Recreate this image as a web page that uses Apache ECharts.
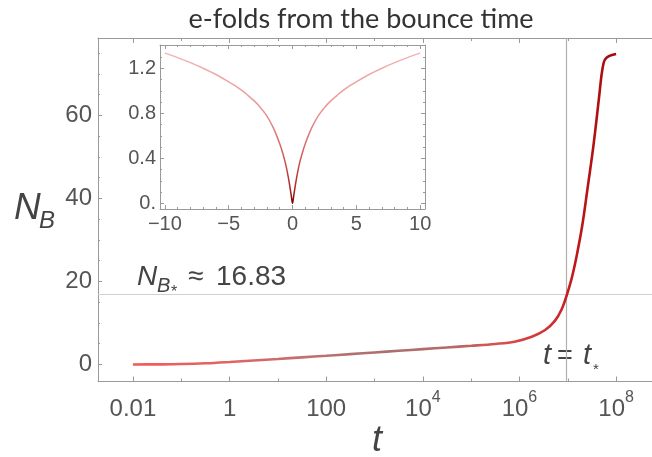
<!DOCTYPE html>
<html><head><meta charset="utf-8">
<script src="https://cdn.jsdelivr.net/npm/echarts@6/dist/echarts.min.js"></script>
<style>html,body{margin:0;padding:0;background:#fff}#c{width:652px;height:457px}</style>
</head><body><div id="c"></div>
<script>
// ---- main curve: t (time) and N_B (e-folds) ----
const tValues = [0.01, 0.0316, 0.1, 0.316, 1, 3.16, 10, 31.6, 100, 316, 1000, 3160, 1e4, 3.16e4, 1e5, 3.16e5,
  7.9e5, 1.8e6, 3.4e6, 5.4e6, 7.4e6, 9.4e6, 1.2e7, 1.41e7, 1.62e7, 2.0e7, 2.5e7, 3.4e7, 4.4e7, 5.0e7, 5.5e7,
  6.0e7, 7.1e7, 8.3e7, 1e8];
const nValues = [0.0, 0.03, 0.1, 0.28, 0.6, 0.97, 1.33, 1.72, 2.1, 2.5, 2.9, 3.3, 3.7, 4.1, 4.5, 4.95,
  5.5, 6.7, 8.3, 10.5, 13.2, 16.5, 20.7, 24.2, 27.7, 33.6, 41.5, 52.8, 64.0, 69.8, 72.6,
  73.6, 74.3, 74.6, 74.8];
// ---- inset curve ----
const insetT = [-10, -9, -8, -7, -6, -5, -4.5, -4, -3.5, -3, -2.5, -2, -1.5, -1, -0.75, -0.5, -0.25, -0.1, 0,
  0.1, 0.25, 0.5, 0.75, 1, 1.5, 2, 2.5, 3, 3.5, 4, 4.5, 5, 6, 7, 8, 9, 10];
const insetN = [1.335, 1.295, 1.25, 1.20, 1.145, 1.08, 1.045, 1.005, 0.96, 0.91, 0.85, 0.775, 0.67, 0.53, 0.44, 0.33, 0.18, 0.07, 0.0,
  0.07, 0.18, 0.33, 0.44, 0.53, 0.67, 0.775, 0.85, 0.91, 0.96, 1.005, 1.045, 1.08, 1.145, 1.20, 1.25, 1.295, 1.335];
// ---- ticks ----
const xMajorTicks = [0.01, 1, 100, 1e4, 1e6, 1e8];
const xMinorTicks = [0.1, 10, 1000, 1e5, 1e7];
const yMajorTicks = [0, 20, 40, 60];
const yMinorTicks = [5, 10, 15, 25, 30, 35, 45, 50, 55, 65, 70, 75];
const insetXMajor = [-10, -5, 0, 5, 10];
const insetXMinor = [-9, -8, -7, -6, -4, -3, -2, -1, 1, 2, 3, 4, 6, 7, 8, 9];
const insetYMajor = [0, 0.4, 0.8, 1.2];
const insetYMinor = [0.1, 0.2, 0.3, 0.5, 0.6, 0.7, 0.9, 1.0, 1.1, 1.3];
// reference lines
const tStar = 9.4e6;
const nStar = 16.83;

const lg = Math.log10;
const X_MIN = -2.723, X_MAX = 8.743, Y_MIN = -4.1, Y_MAX = 78.67;
const IX = 10.38, IY_MIN = -0.051, IY_MAX = 1.407;
const AX = '#9a9a9a', LBL = '#555';
const NUMFONT = 'Liberation Sans, Arial, sans-serif';

const mainData = tValues.map((t, i) => [lg(t), nValues[i]]);
const insetData = insetT.map((t, i) => [t, insetN[i]]);

function xFmt(v) {
  const e = Math.round(v);
  if (e < 4) return '{b|' + (e < 0 ? Math.pow(10, e).toFixed(-e) : String(Math.pow(10, e))) + '}';
  return '{b|10}{e|' + e + '}';
}
function tickAxis(grid, pos, vals, len, extra) {
  return Object.assign({
    gridIndex: grid, type: 'value', position: pos,
    axisLine: { show: false, onZero: false }, splitLine: { show: false },
    axisTick: { show: true, inside: true, length: len, customValues: vals, lineStyle: { color: AX, width: 1 } },
    axisLabel: { show: false }
  }, extra || {});
}
const mainX = { min: X_MIN, max: X_MAX };
const mainY = { min: Y_MIN, max: Y_MAX };
const insX = { min: -IX, max: IX };
const insY = { min: IY_MIN, max: IY_MAX };
const lineOn = { axisLine: { show: true, onZero: false, lineStyle: { color: AX, width: 1 } } };

const option = {
  animation: false,
  backgroundColor: '#fff',
  grid: [
    { left: 98, top: 38, width: 560, height: 343.5 },
    { left: 98, top: 38, width: 560, height: 343.5 },
    { left: 160, top: 45, width: 265, height: 164, show: true, backgroundColor: '#fff', borderWidth: 0 },
    { left: 160, top: 45, width: 265, height: 164 }
  ],
  xAxis: [
    tickAxis(0, 'bottom', xMajorTicks.map(lg), 5, Object.assign({}, mainX, lineOn, {
      axisLabel: {
        show: true, customValues: xMajorTicks.map(lg), formatter: xFmt, margin: 8, color: LBL,
        rich: {
          b: { fontSize: 24, fontFamily: NUMFONT, color: LBL, lineHeight: 32, verticalAlign: 'bottom' },
          e: { fontSize: 16, fontFamily: NUMFONT, color: LBL, lineHeight: 18, verticalAlign: 'top' }
        }
      }
    })),
    tickAxis(0, 'top', xMajorTicks.map(lg), 5, Object.assign({}, mainX, lineOn)),
    tickAxis(1, 'bottom', xMinorTicks.map(lg), 3, mainX),
    tickAxis(1, 'top', xMinorTicks.map(lg), 3, mainX),
    tickAxis(2, 'bottom', insetXMajor, 4, Object.assign({}, insX, lineOn, {
      axisLabel: { show: true, customValues: insetXMajor, margin: 5, color: LBL, fontSize: 20, fontFamily: NUMFONT,
        formatter: v => String(v).replace('-', '\u2212') }
    })),
    tickAxis(2, 'top', insetXMajor, 4, Object.assign({}, insX, lineOn)),
    tickAxis(3, 'bottom', insetXMinor, 2, insX),
    tickAxis(3, 'top', insetXMinor, 2, insX)
  ],
  yAxis: [
    tickAxis(0, 'left', yMajorTicks, 4, Object.assign({}, mainY, lineOn, {
      axisLabel: { show: true, customValues: yMajorTicks, margin: 6, color: LBL, fontSize: 24, fontFamily: NUMFONT }
    })),
    tickAxis(1, 'left', yMinorTicks, 2, mainY),
    tickAxis(2, 'left', insetYMajor, 4, Object.assign({}, insY, lineOn, {
      axisLabel: { show: true, customValues: insetYMajor, margin: 4, color: LBL, fontSize: 20, fontFamily: NUMFONT,
        formatter: v => (v === 0 ? '0.' : v.toFixed(1)) }
    })),
    tickAxis(2, 'right', insetYMajor, 4, Object.assign({}, insY, lineOn)),
    tickAxis(3, 'left', insetYMinor, 2, insY),
    tickAxis(3, 'right', insetYMinor, 2, insY)
  ],
  series: [
    {
      type: 'line', xAxisIndex: 0, yAxisIndex: 0, data: mainData,
      showSymbol: false, smooth: 0.35, z: 5,
      lineStyle: {
        width: 2.6,
        color: new echarts.graphic.LinearGradient(0, 0, 1, 0, [
          { offset: 0.0, color: '#f25a5a' },
          { offset: 0.2, color: '#e26262' },
          { offset: 0.35, color: '#c47070' },
          { offset: 0.5, color: '#aa7070' },
          { offset: 0.65, color: '#b46a6a' },
          { offset: 0.76, color: '#d65050' },
          { offset: 0.86, color: '#d03030' },
          { offset: 0.91, color: '#c01818' },
          { offset: 1.0, color: '#a00808' }
        ])
      },
      markLine: {
        silent: true, symbol: 'none', label: { show: false }, animation: false, z: 1,
        data: [
          { yAxis: nStar, lineStyle: { color: '#d0d0d0', width: 1.2, type: 'solid' } },
          { xAxis: lg(tStar), lineStyle: { color: '#b0b0b0', width: 1.2, type: 'solid' } }
        ]
      }
    },
    {
      type: 'line', xAxisIndex: 4, yAxisIndex: 2, data: insetData,
      showSymbol: false, smooth: 0.35, z: 5,
      lineStyle: {
        width: 1.5,
        color: new echarts.graphic.LinearGradient(0, 0, 0, 1, [
          { offset: 0.0, color: '#f4b4b4' },
          { offset: 0.4, color: '#ea9494' },
          { offset: 0.7, color: '#d05858' },
          { offset: 0.9, color: '#a82020' },
          { offset: 1.0, color: '#700000' }
        ])
      }
    }
  ],
  graphic: [
    { type: 'text', x: 361, y: 19, style: { text: 'e-folds from the bounce time', font: '27px Lato, sans-serif', fill: '#333', align: 'center', verticalAlign: 'middle' }, z: 10 },
    // y-axis name N_B
    { type: 'text', x: 14, y: 209, style: { text: 'N', font: 'italic 37px ' + NUMFONT, fill: '#444', verticalAlign: 'middle' } },
    { type: 'text', x: 39, y: 221, style: { text: 'B', font: 'italic 24px ' + NUMFONT, fill: '#444', verticalAlign: 'middle' } },
    // x-axis name t
    { type: 'text', x: 377, y: 441, style: { text: 't', font: 'italic 36px ' + NUMFONT, fill: '#444', align: 'center', verticalAlign: 'middle' } },
    // N_B* ≈ 16.83
    { type: 'text', x: 137, y: 277, style: { text: 'N', font: 'italic 28px ' + NUMFONT, fill: '#444', verticalAlign: 'middle' } },
    { type: 'text', x: 157, y: 286, style: { text: 'B', font: 'italic 20px ' + NUMFONT, fill: '#444', verticalAlign: 'middle' } },
    { type: 'text', x: 171, y: 293, style: { text: '*', font: '16px ' + NUMFONT, fill: '#444', verticalAlign: 'middle' } },
    { type: 'text', x: 188, y: 277, style: { text: '\u2248', font: '28px ' + NUMFONT, fill: '#444', verticalAlign: 'middle' } },
    { type: 'text', x: 216, y: 277, style: { text: '16.83', font: '28px ' + NUMFONT, fill: '#444', verticalAlign: 'middle' } },
    // t = t*
    { type: 'text', x: 543, y: 356, style: { text: 't', font: 'italic 29px ' + NUMFONT, fill: '#444', verticalAlign: 'middle' } },
    { type: 'text', x: 557, y: 357, style: { text: '=', font: '27px ' + NUMFONT, fill: '#444', verticalAlign: 'middle' } },
    { type: 'text', x: 583, y: 356, style: { text: 't', font: 'italic 29px ' + NUMFONT, fill: '#444', verticalAlign: 'middle' } },
    { type: 'text', x: 593, y: 370, style: { text: '*', font: '15px ' + NUMFONT, fill: '#444', verticalAlign: 'middle' } }
  ]
};
const chart = echarts.init(document.getElementById('c'), null, { renderer: 'canvas' });
chart.setOption(option);
</script>
</body></html>
